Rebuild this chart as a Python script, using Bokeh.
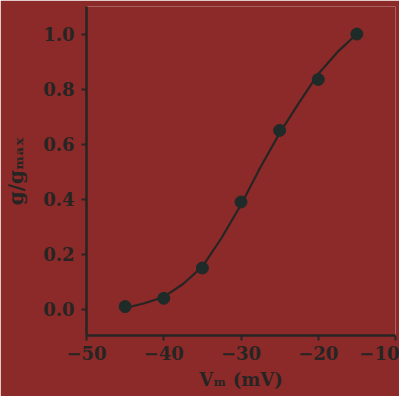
from bokeh.plotting import figure
from bokeh.models import Range1d, FixedTicker
from bokeh.embed import file_html
from bokeh.resources import INLINE

# measured data points
vm_points = [-45, -40, -35, -30, -25, -20, -15]
g_points = [0.01, 0.04, 0.15, 0.39, 0.65, 0.835, 1.0]

# fitted curve
vm_curve = [-45, -42.5, -40, -37.5, -35, -32.5, -30, -27.5, -25, -22.5, -20, -17.5, -15]
g_curve = [0.005, 0.022, 0.045, 0.092, 0.155, 0.26, 0.38, 0.515, 0.64, 0.75, 0.855, 0.935, 1.0]

x_ticks = [-50, -40, -30, -20, -10]
x_tick_labels = ["\u221250", "\u221240", "\u221230", "\u221220", "\u221210"]
y_ticks = [0.0, 0.2, 0.4, 0.6, 0.8, 1.0]
y_tick_labels = ["0.0", "0.2", "0.4", "0.6", "0.8", "1.0"]

BG = "#8c2a29"
INK = "#262523"
FONT = "DejaVu Serif"

p = figure(width=399, height=396, output_backend="svg", toolbar_location=None,
           x_range=Range1d(-50, -10), y_range=Range1d(-0.095, 1.10),
           min_border_left=86, min_border_right=4, min_border_top=6, min_border_bottom=61)
p.background_fill_color = BG
p.border_fill_color = BG
p.outline_line_color = None
p.grid.grid_line_color = None

p.line(vm_curve, g_curve, line_color=INK, line_width=2.2)
p.scatter(vm_points, g_points, size=12, fill_color="#1f2b28", line_color="#1f2b28")

for ax in (p.xaxis[0], p.yaxis[0]):
    ax.axis_line_color = INK
    ax.axis_line_width = 2.5
    ax.major_tick_line_color = INK
    ax.major_tick_line_width = 2
    ax.major_tick_out = 5
    ax.major_tick_in = 0
    ax.minor_tick_line_color = None
    ax.major_label_text_font = FONT
    ax.major_label_text_font_style = "bold"
    ax.major_label_text_font_size = "18px"
    ax.major_label_text_color = INK
    ax.axis_label_text_font = FONT
    ax.axis_label_text_font_style = "bold"
    ax.axis_label_text_color = INK

p.xaxis.ticker = FixedTicker(ticks=x_ticks)
p.xaxis.major_label_overrides = dict(zip(x_ticks, x_tick_labels))
p.yaxis.ticker = FixedTicker(ticks=y_ticks)
p.yaxis.major_label_overrides = dict(zip(y_ticks, y_tick_labels))
p.xaxis.major_label_standoff = 5
p.yaxis.major_label_standoff = 7

p.xaxis.axis_label = "V\u2098 (mV)"
p.xaxis.axis_label_text_font_size = "18px"
p.xaxis.axis_label_standoff = 6
p.yaxis.axis_label = "g/g\u2098\u2090\u2093"
p.yaxis.axis_label_text_font_size = "20px"
p.yaxis.axis_label_standoff = 12

open("out.html", "w").write(file_html(p, INLINE))
